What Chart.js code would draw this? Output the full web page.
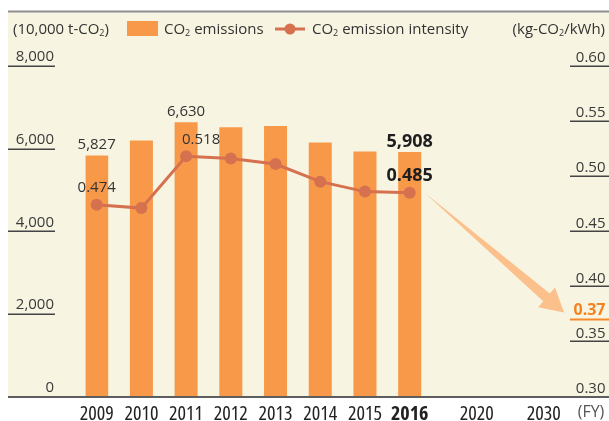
<!DOCTYPE html>
<html>
<head>
<meta charset="utf-8">
<script src="https://cdn.jsdelivr.net/npm/chart.js@4.4.0/dist/chart.umd.min.js"></script>
<style>
  html, body { margin: 0; padding: 0; background: #fff; }
  #wrap { width: 609px; height: 421px; }
</style>
</head>
<body>
<div id="wrap"><canvas id="co2Chart"></canvas></div>
<script>
const years = ['2009', '2010', '2011', '2012', '2013', '2014', '2015', '2016', '2020', '2030'];
const emissions = [5827, 6190, 6630, 6510, 6540, 6140, 5920, 5908, null, null];
const intensity = [0.474, 0.471, 0.518, 0.516, 0.511, 0.495, 0.486, 0.485, null, null];
const leftTicks = [0, 2000, 4000, 6000, 8000];
const rightTicks = [0.30, 0.35, 0.40, 0.45, 0.50, 0.55, 0.60];
const target2030 = 0.37;
const labelledYears = ['2009', '2011', '2016'];
const highlightYear = '2016';

const FONT = '"Open Sans", "Noto Sans", sans-serif';
const BAR = '#f8994a';
const LINE = '#d5714f';

// half-width slots so 2020 / 2030 sit further apart than the yearly bars
const slotOf = [0, 2, 4, 6, 8, 10, 12, 14, 17, 20];
const nSlots = 21;
const slotLabels = Array(nSlots).fill('');
const barData = Array(nSlots).fill(null);
const lineData = Array(nSlots).fill(null);
years.forEach((y, i) => {
    slotLabels[slotOf[i]] = y;
    barData[slotOf[i]] = emissions[i];
    lineData[slotOf[i]] = intensity[i];
});

// text with subscripts: odd entries are drawn small and lowered
function partsWidth(ctx, parts, size) {
    let w = 0;
    parts.forEach((t, k) => {
        ctx.font = `${k % 2 ? Math.round(size * 0.62) : size}px ${FONT}`;
        w += ctx.measureText(t).width;
    });
    return w;
}
function drawParts(ctx, parts, x, y, size) {
    let cx = x;
    ctx.textAlign = 'left';
    ctx.textBaseline = 'middle';
    parts.forEach((t, k) => {
        const sub = k % 2 === 1;
        ctx.font = `${sub ? Math.round(size * 0.62) : size}px ${FONT}`;
        ctx.fillText(t, cx, sub ? y + size * 0.22 : y);
        cx += ctx.measureText(t).width;
    });
}

const decor = {
    id: 'decor',
    beforeDraw(chart) {
        const ctx = chart.ctx;
        ctx.save();
        ctx.fillStyle = '#fff';
        ctx.fillRect(0, 0, chart.width, chart.height);
        ctx.fillStyle = '#f7f4e1';
        ctx.fillRect(8, 12, chart.width - 8, chart.chartArea.bottom + 0.5 - 12);
        ctx.strokeStyle = '#8e8e8e';
        ctx.lineWidth = 2;
        ctx.beginPath();
        ctx.moveTo(8, 11.5);
        ctx.lineTo(chart.width, 11.5);
        ctx.stroke();
        ctx.restore();

        // year labels in a condensed face
        const x = chart.scales.x;
        if (!x._condensed) {
            const orig = x.drawLabels;
            x.drawLabels = function (area) {
                const c = this.ctx;
                const desc = Object.getOwnPropertyDescriptor(CanvasRenderingContext2D.prototype, 'font');
                Object.defineProperty(c, 'font', {
                    configurable: true,
                    get() { return desc.get.call(this); },
                    set(v) { desc.set.call(this, v); this.fontStretch = 'condensed'; }
                });
                orig.call(this, area);
                delete c.font;
                c.fontStretch = 'normal';
            };
            x._condensed = true;
        }
    },
    beforeDatasetsDraw(chart) {
        // arrow from the 2016 value down to the 2030 target
        const ctx = chart.ctx;
        const y2 = chart.scales.y2;
        const pt = chart.getDatasetMeta(1).data[slotOf[years.indexOf(highlightYear)]];
        const sx = pt.x + 15, sy = pt.y;
        const tx = y2.left + 9, ty = y2.getPixelForValue(target2030) - 7;
        const len = Math.hypot(tx - sx, ty - sy);
        const ux = (tx - sx) / len, uy = (ty - sy) / len;
        const nx = -uy, ny = ux;
        const bx = tx - ux * 23, by = ty - uy * 23;
        ctx.save();
        ctx.fillStyle = '#fbc08b';
        ctx.beginPath();
        ctx.moveTo(sx, sy);
        ctx.lineTo(bx + nx * 5, by + ny * 5);
        ctx.lineTo(bx + nx * 13, by + ny * 13);
        ctx.lineTo(tx, ty);
        ctx.lineTo(bx - nx * 13, by - ny * 13);
        ctx.lineTo(bx - nx * 5, by - ny * 5);
        ctx.closePath();
        ctx.fill();
        ctx.restore();
    },
    afterDatasetsDraw(chart) {
        const ctx = chart.ctx;
        const barMeta = chart.getDatasetMeta(0);
        const lineMeta = chart.getDatasetMeta(1);
        const lineShift = { '2011': 15 };
        ctx.save();
        ctx.textAlign = 'center';
        ctx.textBaseline = 'middle';
        labelledYears.forEach(yr => {
            const i = years.indexOf(yr);
            const bold = yr === highlightYear;
            const bar = barMeta.data[slotOf[i]];
            const pt = lineMeta.data[slotOf[i]];
            ctx.fillStyle = bold ? '#1e1e1e' : '#333';
            ctx.font = `${bold ? 'bold 18px' : '15px'} ${FONT}`;
            ctx.fillText(emissions[i].toLocaleString('en-US'), bar.x, bar.y - 11);
            ctx.fillText(intensity[i].toFixed(3), pt.x + (lineShift[yr] || 0), pt.y - 17);
        });
        ctx.restore();
    },
    afterDraw(chart) {
        const ctx = chart.ctx;
        const { y, y2 } = chart.scales;
        const area = chart.chartArea;
        ctx.save();
        // underlines below the tick labels
        ctx.strokeStyle = '#444';
        ctx.lineWidth = 1.5;
        leftTicks.forEach(v => {
            const py = Math.round(y.getPixelForValue(v)) + 0.25;
            ctx.beginPath(); ctx.moveTo(8, py); ctx.lineTo(55, py); ctx.stroke();
        });
        rightTicks.forEach(v => {
            const py = Math.round(y2.getPixelForValue(v)) + 0.25;
            ctx.beginPath(); ctx.moveTo(570, py); ctx.lineTo(chart.width, py); ctx.stroke();
        });
        // base line
        ctx.strokeStyle = '#5e5e5e';
        ctx.lineWidth = 2;
        ctx.beginPath();
        ctx.moveTo(8, area.bottom + 0.5);
        ctx.lineTo(chart.width, area.bottom + 0.5);
        ctx.stroke();

        // 2030 target on the right axis
        const ty = Math.round(y2.getPixelForValue(target2030));
        ctx.strokeStyle = '#f58a2a';
        ctx.lineWidth = 2;
        ctx.beginPath(); ctx.moveTo(570, ty + 0.5); ctx.lineTo(chart.width, ty + 0.5); ctx.stroke();
        ctx.fillStyle = '#f5821f';
        ctx.font = `bold 16px ${FONT}`;
        ctx.textAlign = 'right';
        ctx.textBaseline = 'middle';
        ctx.fillText(target2030.toFixed(2), y2.right, ty - 9);

        // legend and units
        ctx.fillStyle = '#333';
        drawParts(ctx, ['(10,000 t-CO', '2', ')'], 13, 30, 15);
        ctx.fillStyle = BAR;
        ctx.fillRect(127, 21, 31, 15);
        ctx.fillStyle = '#333';
        drawParts(ctx, ['CO', '2', ' emissions'], 164, 30, 15);
        ctx.strokeStyle = LINE;
        ctx.lineWidth = 3;
        ctx.beginPath(); ctx.moveTo(275, 29); ctx.lineTo(305, 29); ctx.stroke();
        ctx.fillStyle = LINE;
        ctx.beginPath(); ctx.arc(290, 29, 5.5, 0, Math.PI * 2); ctx.fill();
        ctx.fillStyle = '#333';
        drawParts(ctx, ['CO', '2', ' emission intensity'], 312, 30, 15);
        const unitR = ['(kg-CO', '2', '/kWh)'];
        drawParts(ctx, unitR, 605 - partsWidth(ctx, unitR, 15), 30, 15);

        // fiscal year marker
        ctx.fillStyle = '#555';
        ctx.font = `16px ${FONT}`;
        ctx.textAlign = 'center';
        ctx.textBaseline = 'middle';
        ctx.fillText('(FY)', 591, 412);
        ctx.restore();
    }
};

const ctx = document.getElementById('co2Chart').getContext('2d');
new Chart(ctx, {
    type: 'bar',
    data: {
        labels: slotLabels,
        datasets: [{
            label: 'CO2 emissions',
            data: barData,
            backgroundColor: BAR,
            barPercentage: 1,
            categoryPercentage: 1,
            yAxisID: 'y',
            order: 1
        }, {
            type: 'line',
            label: 'CO2 emission intensity',
            data: lineData,
            borderColor: LINE,
            borderWidth: 3,
            backgroundColor: LINE,
            pointBackgroundColor: LINE,
            pointBorderWidth: 0,
            pointRadius: 6,
            spanGaps: true,
            tension: 0,
            yAxisID: 'y2',
            order: 0
        }]
    },
    options: {
        responsive: true,
        maintainAspectRatio: false,
        devicePixelRatio: 1,
        animation: false,
        layout: { padding: { left: 8, top: 66, right: 3.5, bottom: 0 } },
        plugins: {
            legend: { display: false },
            tooltip: { enabled: false }
        },
        scales: {
            x: {
                grid: { display: false, drawTicks: false },
                border: { display: false },
                afterFit: s => { s.height = 24.5; },
                ticks: {
                    autoSkip: false,
                    maxRotation: 0,
                    padding: 8,
                    color: '#222',
                    font: c => ({
                        family: FONT,
                        size: 20,
                        lineHeight: 1,
                        weight: c.tick && c.tick.label === highlightYear ? 'bold' : 'normal'
                    })
                }
            },
            y: {
                position: 'left',
                min: 0,
                max: 8000,
                grid: { display: true, drawOnChartArea: false, drawTicks: true, tickLength: 31.5, tickColor: 'rgba(0,0,0,0)' },
                border: { display: false },
                afterFit: s => { s.width = 77.5; },
                afterBuildTicks: s => { s.ticks = leftTicks.map(v => ({ value: v })); },
                ticks: {
                    padding: 0,
                    labelOffset: -9,
                    color: '#3a3a3a',
                    font: { family: FONT, size: 15 },
                    callback: v => v.toLocaleString('en-US')
                }
            },
            y2: {
                position: 'right',
                min: 0.30,
                max: 0.60,
                grid: { display: false },
                border: { display: false },
                afterFit: s => { s.width = 50.5; },
                afterBuildTicks: s => { s.ticks = rightTicks.map(v => ({ value: v })); },
                ticks: {
                    padding: 0,
                    crossAlign: 'far',
                    labelOffset: -8,
                    color: '#3a3a3a',
                    font: { family: FONT, size: 15 },
                    callback: v => v.toFixed(2)
                }
            }
        }
    },
    plugins: [decor]
});
</script>
</body>
</html>
